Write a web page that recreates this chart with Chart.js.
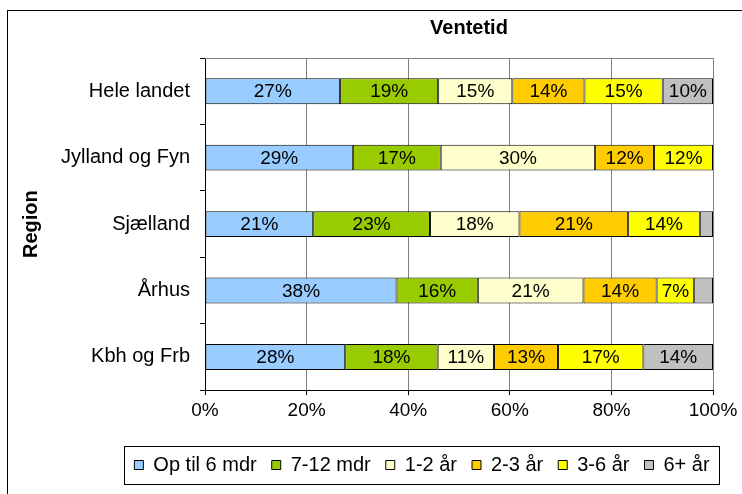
<!DOCTYPE html>
<html>
<head>
<meta charset="utf-8">
<title>Ventetid</title>
<script src="https://cdn.jsdelivr.net/npm/chart.js@4.4.0/dist/chart.umd.min.js"></script>
<style>
  html, body { margin: 0; padding: 0; background: #fff; overflow: hidden; }
  #frame { position: absolute; left: 7px; top: 10px; width: 800px; height: 600px; border-left: 1px solid #000; border-top: 1px solid #000; }
  #wrap { position: absolute; left: 0; top: 0; width: 742px; height: 494px; }
</style>
</head>
<body>
<div id="frame"></div>
<div id="wrap"><canvas id="ventetidChart"></canvas></div>
<script>
// Data (share of each region, in %)
const regions = ['Hele landet', 'Jylland og Fyn', 'Sjælland', 'Århus', 'Kbh og Frb'];
const seriesNames = ['Op til 6 mdr', '7-12 mdr', '1-2 år', '2-3 år', '3-6 år', '6+ år'];
const upTo6mdr = [26.6, 29.1, 21.3, 37.7, 27.6];
const mdr7to12 = [19.3, 17.3, 23.0, 16.0, 18.2];
const aar1to2 = [14.6, 30.4, 17.6, 20.8, 11.1];
const aar2to3 = [14.2, 11.6, 21.4, 14.4, 12.6];
const aar3to6 = [15.4, 11.6, 14.1, 7.4, 16.8];
const aar6plus = [9.9, 0, 2.6, 3.7, 13.7];
const xTicks = [0, 20, 40, 60, 80, 100];

const seriesValues = [upTo6mdr, mdr7to12, aar1to2, aar2to3, aar3to6, aar6plus];
const seriesColors = ['#99CCFF', '#99CC00', '#FFFFCC', '#FFCC00', '#FFFF00', '#C0C0C0'];

const FONT = '"Liberation Sans", Arial, sans-serif';

// Percent labels inside the bars
const barLabels = {
    id: 'barLabels',
    afterDatasetsDraw(chart) {
        const ctx = chart.ctx;
        ctx.save();
        ctx.font = '19px ' + FONT;
        ctx.fillStyle = '#000';
        ctx.textAlign = 'center';
        ctx.textBaseline = 'middle';
        chart.data.datasets.forEach(function(ds, i) {
            chart.getDatasetMeta(i).data.forEach(function(bar, j) {
                const v = ds.data[j];
                if (v < 5) return;
                const p = bar.getCenterPoint();
                ctx.fillText(Math.round(v) + '%', p.x, p.y + 1);
            });
        });
        ctx.restore();
    }
};

// Excel-like framing: plot area top line, legend box, title/legend placement
const excelFrame = {
    id: 'excelFrame',
    afterLayout(chart) {
        const shift = function(box, cx) {
            const d = cx - (box.left + box.right) / 2;
            box.left += d;
            box.right += d;
        };
        shift(chart.legend, 422);
        shift(chart.titleBlock, 469);
    },
    beforeDatasetsDraw(chart) {
        const a = chart.chartArea;
        const ctx = chart.ctx;
        ctx.save();
        ctx.strokeStyle = '#808080';
        ctx.lineWidth = 1;
        ctx.beginPath();
        ctx.moveTo(a.left, a.top + 0.5);
        ctx.lineTo(a.right, a.top + 0.5);
        ctx.stroke();
        ctx.restore();
    },
    afterDraw(chart) {
        const boxes = chart.legend.legendHitBoxes;
        if (!boxes || !boxes.length) return;
        const first = boxes[0];
        const last = boxes[boxes.length - 1];
        const cy = first.top + first.height / 2;
        const ctx = chart.ctx;
        ctx.save();
        ctx.strokeStyle = '#000';
        ctx.lineWidth = 1;
        const left = Math.round(first.left - 10) + 0.5;
        const right = Math.round(last.left + last.width + 9) + 0.5;
        const top = Math.round(cy - 19) + 0.5;
        const bottom = Math.round(cy + 19) + 0.5;
        ctx.strokeRect(left, top, right - left, bottom - top);
        ctx.restore();
    }
};

const ctx = document.getElementById('ventetidChart').getContext('2d');
const ventetidChart = new Chart(ctx, {
    type: 'bar',
    data: {
        labels: regions,
        datasets: seriesNames.map(function(name, i) {
            return {
                label: name,
                data: seriesValues[i],
                backgroundColor: seriesColors[i],
                borderColor: '#000',
                borderWidth: 1,
                borderSkipped: false,
                categoryPercentage: 0.39,
                barPercentage: 1
            };
        })
    },
    options: {
        indexAxis: 'y',
        responsive: true,
        maintainAspectRatio: false,
        animation: false,
        layout: {
            padding: { top: 6, left: 0, right: 29, bottom: 9 }
        },
        scales: {
            x: {
                stacked: true,
                min: 0,
                max: 100,
                afterBuildTicks: function(axis) {
                    axis.ticks = xTicks.map(function(v) { return { value: v }; });
                },
                afterFit: function(axis) {
                    axis.height += 14;
                },
                grid: {
                    color: '#808080',
                    tickColor: '#000',
                    tickLength: 5
                },
                border: { color: '#000' },
                ticks: {
                    color: '#000',
                    padding: 4,
                    maxRotation: 0,
                    font: { family: FONT, size: 19 },
                    callback: function(v) { return v + '%'; }
                }
            },
            y: {
                stacked: true,
                afterFit: function(axis) {
                    axis.width = 205;
                },
                grid: {
                    drawOnChartArea: false,
                    color: '#000',
                    tickLength: 5,
                    offset: true
                },
                border: { color: '#000' },
                ticks: {
                    color: '#000',
                    padding: 10,
                    font: { family: FONT, size: 20 }
                },
                title: {
                    display: true,
                    text: 'Region',
                    color: '#000',
                    padding: { top: 19, bottom: 0 },
                    font: { family: FONT, size: 20, weight: 'bold' }
                }
            }
        },
        plugins: {
            title: {
                display: true,
                text: 'Ventetid',
                color: '#000',
                padding: { top: 10, bottom: 18 },
                font: { family: FONT, size: 20, weight: 'bold' }
            },
            legend: {
                position: 'bottom',
                labels: {
                    color: '#000',
                    boxWidth: 9,
                    boxHeight: 9,
                    padding: 15,
                    font: { family: FONT, size: 20 }
                }
            },
            tooltip: { enabled: false }
        }
    },
    plugins: [barLabels, excelFrame]
});
</script>
</body>
</html>
